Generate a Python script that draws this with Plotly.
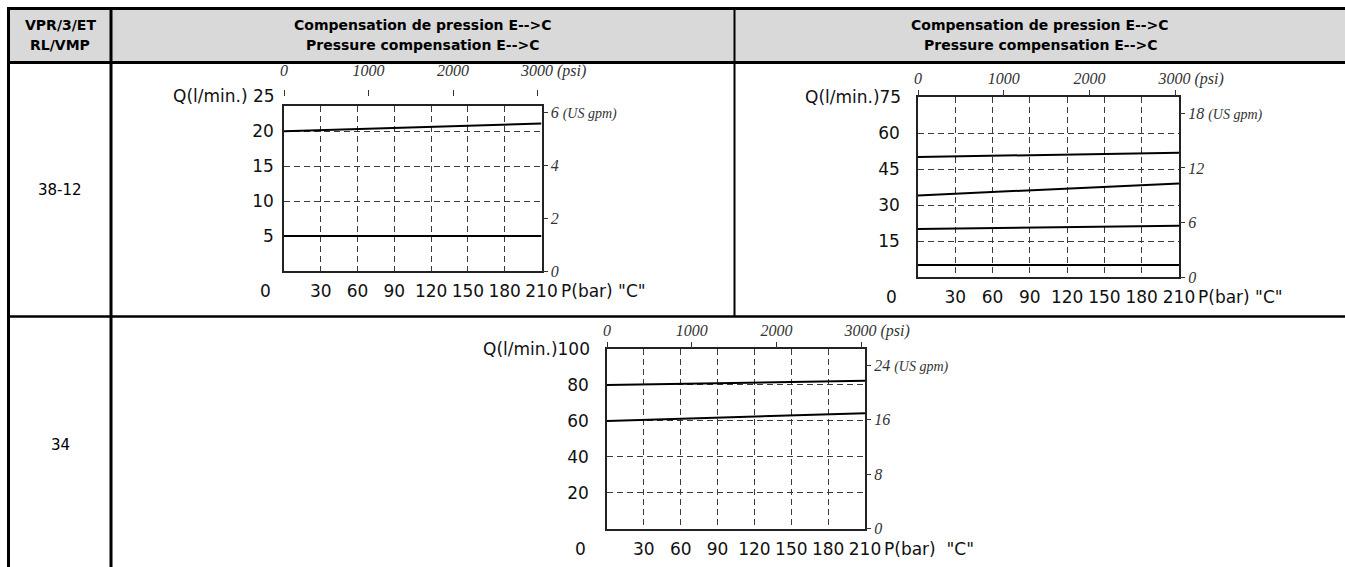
import plotly.graph_objects as go

W, H = 1345, 567

# ---- data -------------------------------------------------------------
PRESSURE_BAR = [0, 210]                      # curve end points (bar)

# VPR/3/ET RL/VMP 38-12, left chart (l/min)
FLOW_38_12_L_HIGH = [20, 21.1]
FLOW_38_12_L_LOW = [5, 5]

# VPR/3/ET RL/VMP 38-12, right chart (l/min)
FLOW_38_12_R_1 = [50, 51.8]
FLOW_38_12_R_2 = [34, 39]
FLOW_38_12_R_3 = [20, 21.4]
FLOW_38_12_R_4 = [5, 5]

# VPR/3/ET RL/VMP 34 (l/min)
FLOW_34_HIGH = [80, 82.3]
FLOW_34_LOW = [60, 64.3]

BAR_TICKS = [30, 60, 90, 120, 150, 180, 210]
PSI_TICKS = [0, 1000, 2000, 3000]
Q_TICKS_L = [5, 10, 15, 20, 25]
Q_TICKS_R = [15, 30, 45, 60, 75]
Q_TICKS_34 = [20, 40, 60, 80, 100]
GPM_TICKS_L = [0, 2, 4, 6]
GPM_TICKS_R = [0, 6, 12, 18]
GPM_TICKS_34 = [0, 8, 16, 24]

BAR_TO_PSI = 14.5038
GPM_TO_LPM = 3.78541

HEADER_CODE = ["VPR/3/ET", "RL/VMP"]
HEADER_TITLE = ["Compensation de pression E-->C", "Pressure compensation E-->C"]
ROW_CODES = ["38-12", "34"]

# ---- helpers -----------------------------------------------------------
def px(x):
    return x / W


def py(y):
    return 1 - y / H


SANS = "DejaVu Sans"
SERIF = "Liberation Serif"
INK = "#111111"
GRID = "#3a3a3a"

fig = go.Figure()
layout = {}
annotations = []


def aname(prefix, n):
    return prefix if n == 1 else f"{prefix}{n}"


def add_panel(k, box, q_max, q_ticks, gpm_ticks, curves, label_gap,
              psi_free=False, unit_text='P(bar) "C"', q_sep=" "):
    """box = (left, top, right, bottom) of the plot frame in pixels."""
    x0, y0, x1, y1 = box
    nx, npsi = 2 * k + 1, 2 * k + 2
    ny, ngpm = 2 * k + 1, 2 * k + 2
    xr, psir = aname("x", nx), aname("x", npsi)
    yr, gpmr = aname("y", ny), aname("y", ngpm)

    for q in curves:
        fig.add_trace(go.Scatter(x=PRESSURE_BAR, y=q, mode="lines",
                                 line=dict(color="#000", width=2),
                                 xaxis=xr, yaxis=yr, showlegend=False,
                                 hoverinfo="skip"))
    # empty traces so the secondary scales get drawn
    fig.add_trace(go.Scatter(x=[], y=[], xaxis=psir, yaxis=yr,
                             showlegend=False, hoverinfo="skip"))
    fig.add_trace(go.Scatter(x=[], y=[], xaxis=xr, yaxis=gpmr,
                             showlegend=False, hoverinfo="skip"))

    grid = dict(showgrid=True, gridcolor=GRID, gridwidth=1,
                griddash="6px,4px", showline=True, linecolor="#222",
                linewidth=1.5, mirror=True, zeroline=False, ticks="",
                fixedrange=True, automargin=False)
    layout[aname("xaxis", nx)] = dict(
        domain=[px(x0), px(x1)], range=[0, 210], anchor=yr,
        tickmode="array", tickvals=BAR_TICKS,
        tickfont=dict(family=SANS, size=17, color=INK),
        ticklabelstandoff=4, **grid)
    top_val = q_ticks[-1]
    layout[aname("yaxis", ny)] = dict(
        domain=[py(y1), py(y0)], range=[0, q_max], anchor=xr,
        tickmode="array", tickvals=[v for v in q_ticks[:-1]],
        tickfont=dict(family=SANS, size=17, color=INK),
        ticklabelstandoff=label_gap - 2, **grid)

    # paper height of the top flow value (may sit above the frame)
    top_paper = py(y1) + (py(y0) - py(y1)) * top_val / q_max

    psi_max = 210 * BAR_TO_PSI
    psi_text = [str(v) for v in PSI_TICKS]
    psi_text[-1] = "\u00a0" * 8 + psi_text[-1] + " (psi)"
    psi_axis = dict(
        overlaying=xr, side="top", range=[0, psi_max],
        tickmode="array", tickvals=PSI_TICKS, ticktext=psi_text,
        ticks="outside", ticklen=6, tickwidth=1, tickcolor="#333",
        showgrid=False, showline=False, zeroline=False, fixedrange=True,
        automargin=False,
        tickfont=dict(family=SERIF, size=16, color="#333", style="italic"))
    if psi_free:
        # the psi scale sits at the level of the top flow value
        psi_axis.update(anchor="free", position=top_paper,
                        ticklabelstandoff=8)
    else:
        psi_axis.update(anchor=yr)
    layout[aname("xaxis", npsi)] = psi_axis

    gpm_text = [str(v) for v in gpm_ticks]
    gpm_text[-1] = gpm_text[-1] + " <span style='font-size:14px'>(US gpm)</span>"
    layout[aname("yaxis", ngpm)] = dict(
        overlaying=yr, side="right", anchor=xr,
        range=[0, q_max / GPM_TO_LPM], tickmode="array",
        tickvals=gpm_ticks, ticktext=gpm_text, ticks="outside", ticklen=5,
        tickwidth=1, tickcolor="#333", showgrid=False, showline=False,
        zeroline=False, fixedrange=True, automargin=False,
        tickfont=dict(family=SERIF, size=16, color="#333", style="italic"))

    # flow axis caption with the top value
    annotations.append(dict(
        text=f"Q(l/min.){q_sep}{top_val}", xref="paper", x=px(x0),
        xanchor="right", xshift=-label_gap, yref="paper", y=top_paper,
        yanchor="middle", showarrow=False,
        font=dict(family=SANS, size=17, color=INK)))
    # origin label under the flow scale
    annotations.append(dict(
        text="0", xref="paper", x=px(x0), xanchor="right",
        xshift=-label_gap - 4, yref=yr, y=0, yanchor="middle", yshift=-20,
        showarrow=False, font=dict(family=SANS, size=17, color=INK)))
    # pressure unit after the last bar tick
    annotations.append(dict(
        text=unit_text, xref=xr, x=210, xanchor="left", xshift=17,
        yref=yr, y=0, yanchor="middle", yshift=-20, showarrow=False,
        font=dict(family=SANS, size=17, color=INK)))


add_panel(0, (284, 106, 541.5, 271), 23.6, Q_TICKS_L, GPM_TICKS_L,
          [FLOW_38_12_L_HIGH, FLOW_38_12_L_LOW], 7, psi_free=True)
add_panel(1, (918, 97, 1179, 277), 75, Q_TICKS_R, GPM_TICKS_R,
          [FLOW_38_12_R_1, FLOW_38_12_R_2, FLOW_38_12_R_3, FLOW_38_12_R_4],
          15, q_sep="")
add_panel(2, (607, 349, 865, 528.7), 100, Q_TICKS_34, GPM_TICKS_34,
          [FLOW_34_HIGH, FLOW_34_LOW], 15, unit_text='P(bar)  "C"', q_sep="")

# ---- table frame ---------------------------------------------------------
shapes = [dict(type="rect", xref="paper", yref="paper", x0=px(8), x1=1,
               y0=py(62), y1=py(8), fillcolor="#d9d9d9", line=dict(width=0),
               layer="below")]


def hline(y, xa, xb, w):
    shapes.append(dict(type="line", xref="paper", yref="paper", x0=px(xa),
                       x1=px(xb), y0=py(y), y1=py(y),
                       line=dict(color="#000", width=w)))


def vline(x, ya, yb, w):
    shapes.append(dict(type="line", xref="paper", yref="paper", x0=px(x),
                       x1=px(x), y0=py(ya), y1=py(yb),
                       line=dict(color="#000", width=w)))


hline(8.5, 7, W, 3)
hline(62.5, 7, W, 3)
hline(316.5, 7, W, 2.5)
vline(8.5, 7, H, 3)
vline(111, 7, H, 3)
vline(734.5, 8, 316, 2)


def label(text, x, y, size=14, bold=False):
    annotations.append(dict(
        text=f"<b>{text}</b>" if bold else text, xref="paper", yref="paper",
        x=px(x), y=py(y), xanchor="center", yanchor="middle",
        showarrow=False, font=dict(family=SANS, size=size, color="#000")))


label(HEADER_CODE[0], 60, 25, bold=True)
label(HEADER_CODE[1], 60, 45, bold=True)
for cx in (422.5, 1040):
    label(HEADER_TITLE[0], cx, 25, bold=True)
    label(HEADER_TITLE[1], cx, 45, bold=True)
label(ROW_CODES[0], 60, 190, size=15)
label(ROW_CODES[1], 60, 445, size=15)

fig.update_layout(
    width=W, height=H,
    margin=dict(l=0, r=0, t=0, b=0, pad=0, autoexpand=False),
    paper_bgcolor="white", plot_bgcolor="white", showlegend=False,
    hovermode=False, shapes=shapes, annotations=annotations, **layout)

# page without body margin so the figure sits at the window origin
fig.write_html(
    "out.html", config={"displayModeBar": False},
    post_script="document.body.style.margin='0';"
                "document.body.style.overflow='hidden';")
